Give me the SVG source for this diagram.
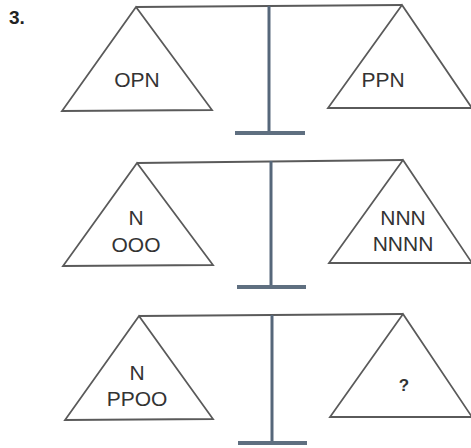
<svg xmlns="http://www.w3.org/2000/svg" width="471" height="448" viewBox="0 0 471 448">
<style>
.pan{fill:none;stroke:#5a5a5a;stroke-width:1.8;stroke-linejoin:miter}
.beam{stroke:#5a5a5a;stroke-width:2;fill:none}
.post{stroke:#56677a;stroke-width:3;fill:none}
.foot{stroke:#5f6f80;stroke-width:4;fill:none}
.t{font-family:"Liberation Sans",Arial,sans-serif;font-size:21px;fill:#333;text-anchor:middle}
</style>
<rect width="471" height="448" fill="#fff"/>
<text x="9" y="24" font-family="Liberation Sans,Arial,sans-serif" font-size="19" font-weight="bold" fill="#222">3.</text>
<g id="connectors">
<line class="beam" x1="136" y1="7" x2="402" y2="5"/>
<line class="post" x1="269" y1="6" x2="269" y2="133"/>
<line class="foot" x1="235" y1="133" x2="305" y2="133"/>
<line class="beam" x1="137" y1="163" x2="403" y2="160"/>
<line class="post" x1="271" y1="161" x2="271" y2="287"/>
<line class="foot" x1="237" y1="287" x2="306" y2="287"/>
<line class="beam" x1="139" y1="316" x2="403" y2="314"/>
<line class="post" x1="272" y1="315" x2="272" y2="443"/>
<line class="foot" x1="238" y1="443" x2="307" y2="443"/>
</g>
<g id="pan1L"><polygon class="pan" points="136,7 212,110 62,111"/><text class="t" x="137" y="87">OPN</text></g>
<g id="pan1R"><polygon class="pan" points="402,5 472,108 328,108"/><text class="t" x="383" y="87">PPN</text></g>
<g id="pan2L"><polygon class="pan" points="137,163 213,265 63,266"/><text class="t" x="136" y="225">N</text><text class="t" x="136" y="252">OOO</text></g>
<g id="pan2R"><polygon class="pan" points="403,160 472,263 329,263"/><text class="t" x="403" y="225">NNN</text><text class="t" x="403" y="251">NNNN</text></g>
<g id="pan3L"><polygon class="pan" points="139,316 213,419 65,420"/><text class="t" x="137" y="380">N</text><text class="t" x="137" y="406">PPOO</text></g>
<g id="pan3R"><polygon class="pan" points="403,314 472,417 330,417"/><text class="t" x="404" y="391" style="font-size:17px;font-weight:bold">?</text></g>
</svg>
